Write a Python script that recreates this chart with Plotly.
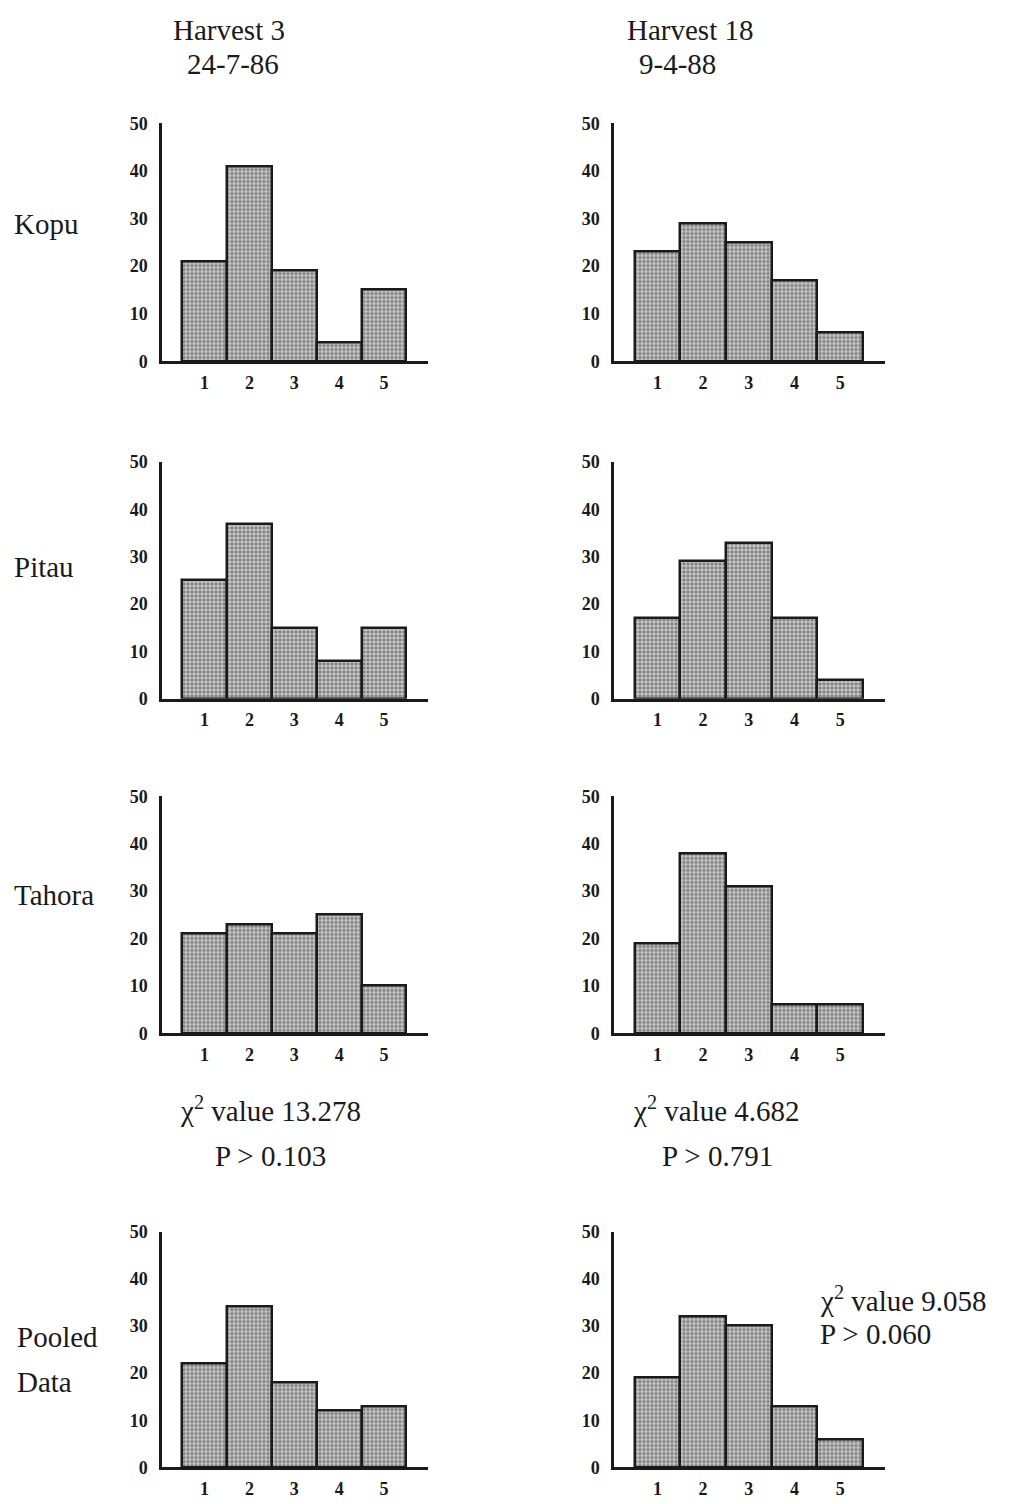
import plotly.graph_objects as go

# ---------------- data ----------------
categories = [1, 2, 3, 4, 5]
y_ticks = [0, 10, 20, 30, 40, 50]

kopu_h3 = [21, 41, 19, 4, 15]
kopu_h18 = [23, 29, 25, 17, 6]
pitau_h3 = [25, 37, 15, 8, 15]
pitau_h18 = [17, 29, 33, 17, 4]
tahora_h3 = [21, 23, 21, 25, 10]
tahora_h18 = [19, 38, 31, 6, 6]
pooled_h3 = [22, 34, 18, 12, 13]
pooled_h18 = [19, 32, 30, 13, 6]

col_titles = [["Harvest 3", "24-7-86"], ["Harvest 18", "9-4-88"]]
row_labels = ["Kopu", "Pitau", "Tahora", "Pooled", "Data"]
chi_h3 = ["χ<sup>2</sup> value 13.278", "P > 0.103"]
chi_h18 = ["χ<sup>2</sup> value 4.682", "P > 0.791"]
chi_pooled = ["χ<sup>2</sup> value 9.058", "P > 0.060"]

series = [
    [kopu_h3, kopu_h18],
    [pitau_h3, pitau_h18],
    [tahora_h3, tahora_h18],
    [pooled_h3, pooled_h18],
]

# ---------------- layout geometry (pixels) ----------------
W, H = 1017, 1504
row_px = [(115, 356), (458, 698), (797, 1037), (1238, 1477)]
col_px = [(162, 428), (614, 885)]

def px_x(x):
    return x / W

def px_y(y):
    return 1 - y / H

FONT = "Liberation Serif"
INK = "#1a1a1a"

fig = go.Figure()
layout = dict(
    width=W, height=H,
    margin=dict(l=0, r=0, t=0, b=0),
    paper_bgcolor="white", plot_bgcolor="white",
    showlegend=False, bargap=0,
)

idx = 0
for r in range(4):
    for c in range(2):
        idx += 1
        suffix = "" if idx == 1 else str(idx)
        fig.add_trace(go.Bar(
            x=categories, y=series[r][c], width=1.0,
            xaxis="x" + suffix, yaxis="y" + suffix,
            marker=dict(
                color="#9c9c9c",
                line=dict(color=INK, width=2.5),
                pattern=dict(shape=".", fgcolor="#383838", bgcolor="#c4c4c4",
                             size=4, solidity=0.5),
            ),
            hoverinfo="skip",
        ))
        x0, x1 = col_px[c]
        y0, y1 = row_px[r]
        layout["xaxis" + suffix] = dict(
            domain=[px_x(x0), px_x(x1)],
            anchor="y" + suffix,
            range=[0.05, 5.98],
            tickmode="array", tickvals=categories,
            ticktext=[str(v) for v in categories],
            showline=True, linecolor=INK, linewidth=2.5,
            showgrid=False, zeroline=False, ticks="",
            ticklabelstandoff=3,
            tickfont=dict(family=FONT, size=18, color=INK, weight="bold"),
            fixedrange=True,
        )
        layout["yaxis" + suffix] = dict(
            domain=[px_y(y1), px_y(y0)],
            anchor="x" + suffix,
            range=[0, 50],
            tickmode="array", tickvals=y_ticks,
            showline=True, linecolor=INK, linewidth=2.5,
            showgrid=False, zeroline=False, ticks="",
            ticklabelstandoff=8,
            tickfont=dict(family=FONT, size=18, color=INK, weight="bold"),
            fixedrange=True,
        )

annotations = []

def add_text(text, x, y, xanchor="center", size=29):
    annotations.append(dict(
        text=text, x=px_x(x), y=px_y(y), xref="paper", yref="paper",
        xanchor=xanchor, yanchor="middle", showarrow=False,
        font=dict(family=FONT, size=size, color=INK),
    ))

# column titles
add_text(col_titles[0][0], 229, 20)
add_text(col_titles[0][1], 233, 55)
add_text(col_titles[1][0], 690, 20)
add_text(col_titles[1][1], 677, 55)

# row labels
add_text(row_labels[0], 12, 217, xanchor="left")
add_text(row_labels[1], 12, 565, xanchor="left")
add_text(row_labels[2], 12, 897, xanchor="left")
add_text(row_labels[3], 15, 1345, xanchor="left")
add_text(row_labels[4], 15, 1390, xanchor="left")

# chi-square texts
add_text(chi_h3[0], 270, 1114)
add_text(chi_h3[1], 270, 1161)
add_text(chi_h18[0], 716, 1114)
add_text(chi_h18[1], 717, 1161)
add_text(chi_pooled[0], 818, 1306, xanchor="left")
add_text(chi_pooled[1], 818, 1342, xanchor="left")

layout["annotations"] = annotations
fig.update_layout(**layout)

fig.write_html(
    "out.html",
    config={"displayModeBar": False},
    post_script="document.body.style.margin='0px';document.body.style.overflow='hidden';",
)
